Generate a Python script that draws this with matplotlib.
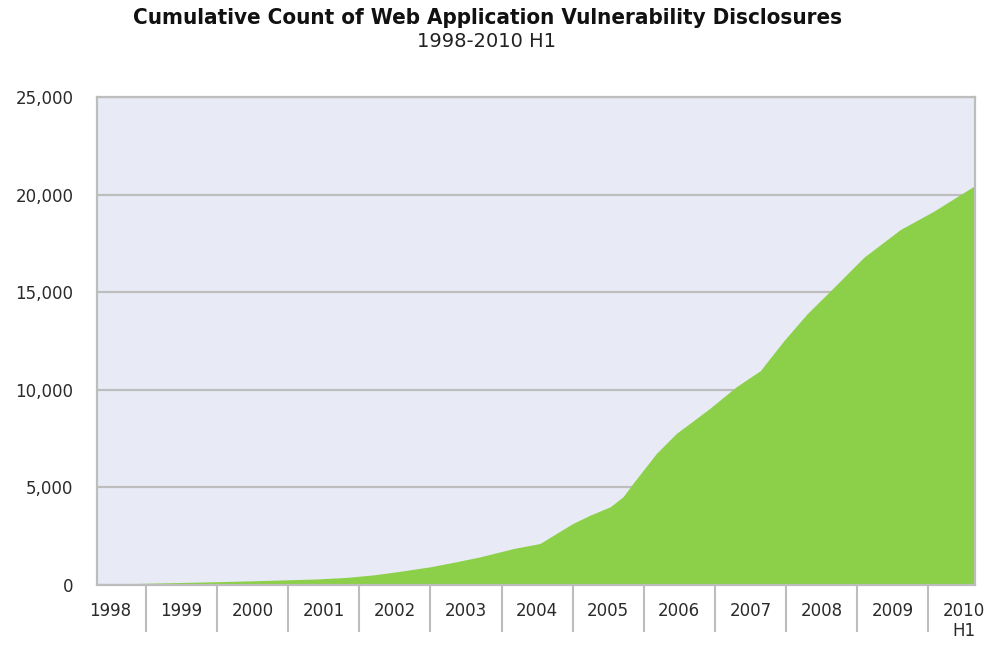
import matplotlib
matplotlib.use('Agg')
from matplotlib import pyplot as plt
from matplotlib.ticker import FixedLocator, FuncFormatter

# Cumulative web application vulnerability disclosures
years = [1998.31, 1998.5, 1999.0, 1999.5, 2000.0, 2000.5, 2000.88, 2001.4, 2001.82,
         2002.2, 2002.53, 2003.0, 2003.35, 2003.7, 2004.17, 2004.54, 2005.0, 2005.25,
         2005.53, 2005.71, 2005.85, 2006.18, 2006.46, 2006.65, 2006.93, 2007.3, 2007.64,
         2007.97, 2008.3, 2008.67, 2009.1, 2009.61, 2010.08, 2010.64]
counts = [30, 50, 90, 130, 170, 215, 255, 310, 390,
          520, 680, 935, 1180, 1445, 1870, 2126, 3146, 3586,
          4011, 4523, 5210, 6747, 7770, 8284, 9050, 10150, 10980,
          12510, 13900, 15230, 16800, 18210, 19150, 20420]

year_labels = ['1998', '1999', '2000', '2001', '2002', '2003', '2004',
               '2005', '2006', '2007', '2008', '2009', '2010\nH1']
year_starts = list(range(1998, 2011))
y_ticks = [0, 5000, 10000, 15000, 20000, 25000]

grey = '#bdbdbd'
text_col = '#2a2a2a'

fig = plt.figure(figsize=(9.88, 6.46), dpi=100)
ax = fig.add_axes([0.0982, 0.0944, 0.8886, 0.7554])
ax.set_facecolor('#e8eaf6')

ax.fill_between(years, counts, 0, color='#8bd048', linewidth=0, zorder=2)

ax.set_xlim(1998.31, 2010.66)
ax.set_ylim(0, 25000)

ax.set_yticks(y_ticks)
ax.yaxis.set_major_formatter(FuncFormatter(lambda v, p: '{:,}'.format(int(v))))
ax.grid(axis='y', color=grey, linewidth=1.6, zorder=1)
ax.tick_params(axis='y', length=0, pad=17, labelsize=12, labelcolor=text_col)

# labels centred on each year, long separators at the year boundaries
ax.xaxis.set_major_locator(FixedLocator([y + 0.5 for y in year_starts]))
ax.set_xticklabels(year_labels, fontsize=12, color=text_col, linespacing=1.15)
ax.xaxis.set_minor_locator(FixedLocator(year_starts[1:]))
ax.tick_params(axis='x', which='major', length=0, pad=12)
ax.tick_params(axis='x', which='minor', length=34, width=1.5, color=grey, direction='out')

for s in ax.spines.values():
    s.set_color(grey)
    s.set_linewidth(1.6)
ax.set_axisbelow(True)

fig.text(0.493, 0.972, 'Cumulative Count of Web Application Vulnerability Disclosures',
         ha='center', va='center', fontsize=16, fontweight='bold', color='#111111',
         fontstretch='condensed', family='DejaVu Sans')
fig.text(0.492, 0.935, '1998-2010 H1', ha='center', va='center', fontsize=14,
         color='#222222')

fig.savefig('out.png', dpi=100)
